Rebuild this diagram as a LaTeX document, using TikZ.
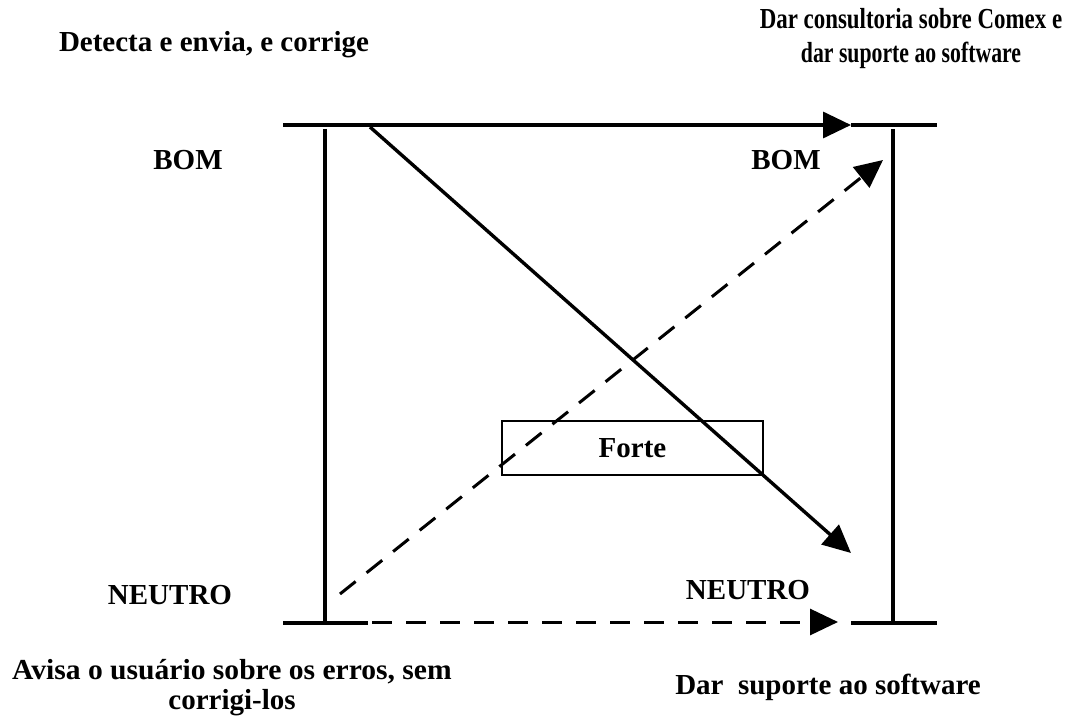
\documentclass[tikz,border=0pt]{standalone}
\usepackage{fontspec}
\setmainfont{Liberation Serif}
\usetikzlibrary{arrows.meta}
\tikzset{
  bar/.style={line width=4pt},
  conn/.style={line width=3.4pt,-{Triangle[length=28pt,width=26pt]}},
  dashconn/.style={conn,line width=3pt,dash pattern=on 20pt off 14pt},
  lbl/.style={font=\bfseries\fontsize{29}{33}\selectfont,inner sep=0pt,align=center},
  box/.style={draw,line width=1.5pt,minimum width=261pt,minimum height=54pt,inner sep=0pt}
}
\begin{document}
\begin{tikzpicture}[x=1pt,y=-1pt]
\useasboundingbox (0,0) rectangle (1070,719);
% bars
\coordinate (tlA) at (283,125); \coordinate (tlB) at (368,125);
\coordinate (blA) at (283,623); \coordinate (blB) at (368,623);
\coordinate (lvA) at (325,129); \coordinate (lvB) at (325,623);
\coordinate (trA) at (851,125); \coordinate (trB) at (937,125);
\coordinate (brA) at (851,623); \coordinate (brB) at (937,623);
\coordinate (rvA) at (893,129); \coordinate (rvB) at (893,623);
\draw[bar] (tlA) -- (tlB);
\draw[bar] (blA) -- (blB);
\draw[bar] (lvA) -- (lvB);
\draw[bar] (trA) -- (trB);
\draw[bar] (brA) -- (brB);
\draw[bar] (rvA) -- (rvB);
% connectors
\coordinate (topS) at (366,125); \coordinate (topE) at (851,125);
\coordinate (d1S) at (370,127); \coordinate (d1E) at (851,553);
\coordinate (d2S) at (340,594); \coordinate (d2E) at (883,160);
\coordinate (botS) at (372,622); \coordinate (botE) at (838,622);
\draw[conn] (topS) -- (topE);
\draw[conn] (d1S) -- (d1E);
\draw[dashconn] (d2S) -- (d2E);
\draw[dashconn] (botS) -- (botE);
% box
\node[box,lbl] (forte) at (632.5,448) {Forte};
% labels
\node[lbl] (t1) at (214,45) {Detecta e envia, e corrige};
\node[lbl] (t2) at (911,39) {\scalebox{0.79}[1]{Dar consultoria sobre Comex e}\\[1pt]\scalebox{0.75}[1]{dar suporte ao software}};
\node[lbl] (bomL) at (188,160) {BOM};
\node[lbl] (bomR) at (786,160) {BOM};
\node[lbl] (neuL) at (170,595) {NEUTRO};
\node[lbl] (neuR) at (748,590) {NEUTRO};
\node[lbl] (b1) at (232,688) {\scalebox{1.02}[1]{Avisa o usuário sobre os erros, sem}\\[-3pt]corrigi-los};
\node[lbl] (b2) at (828,687) {Dar\ \ suporte ao software};
\end{tikzpicture}
\end{document}
